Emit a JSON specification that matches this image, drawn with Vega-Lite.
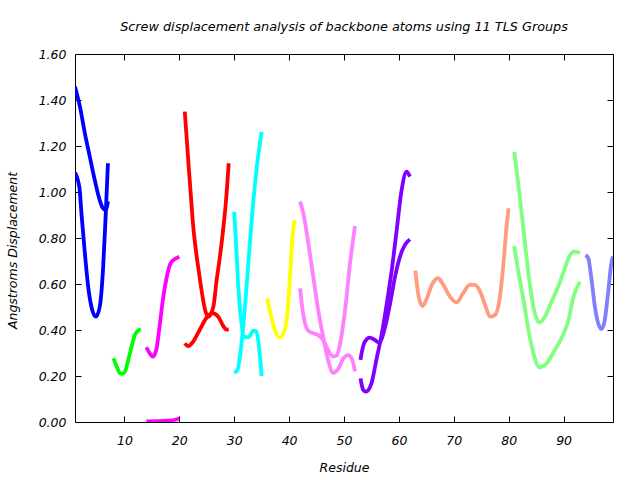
{
  "$schema": "https://vega.github.io/schema/vega-lite/v6.json",
  "width": 538,
  "height": 368,
  "autosize": "none",
  "padding": {"left": 75, "top": 54, "right": 27, "bottom": 58},
  "background": "white",
  "config": {
    "view": {"stroke": "black", "strokeWidth": 1},
    "font": "DejaVu Sans",
    "axis": {"grid": false, "domain": false, "tickColor": "black", "tickSize": -6, "labelFont": "DejaVu Sans", "labelFontStyle": "italic", "labelFontSize": 12.5, "labelColor": "black", "titleFont": "DejaVu Sans", "titleFontStyle": "italic", "titleFontWeight": "normal", "titleFontSize": 12.5, "titleColor": "black"}
  },
  "title": {"text": "Screw displacement analysis of backbone atoms using 11 TLS Groups", "fontStyle": "italic", "fontWeight": "normal", "fontSize": 12.8, "font": "DejaVu Sans", "color": "black", "anchor": "middle", "offset": 14},
  "data": {"values": [
    {"g":"1","s":"1a","r":1,"v":1.458},{"g":"1","s":"1a","r":1.9,"v":1.371},{"g":"1","s":"1a","r":2.8,"v":1.255},{"g":"1","s":"1a","r":3.7,"v":1.153},{"g":"1","s":"1a","r":4.6,"v":1.052},{"g":"1","s":"1a","r":5.5,"v":0.965},{"g":"1","s":"1a","r":6.1,"v":0.929},{"g":"1","s":"1a","r":6.6,"v":0.922},{"g":"1","s":"1a","r":7,"v":0.96},
    {"g":"1","s":"1b","r":1,"v":1.084},{"g":"1","s":"1b","r":1.8,"v":1.02},{"g":"1","s":"1b","r":2.2,"v":0.9},{"g":"1","s":"1b","r":2.8,"v":0.733},{"g":"1","s":"1b","r":3.4,"v":0.588},{"g":"1","s":"1b","r":4.0,"v":0.5},{"g":"1","s":"1b","r":4.8,"v":0.458},{"g":"1","s":"1b","r":5.5,"v":0.5},{"g":"1","s":"1b","r":6.1,"v":0.661},{"g":"1","s":"1b","r":6.55,"v":0.878},{"g":"1","s":"1b","r":7,"v":1.125},
    {"g":"2","s":"2a","r":8,"v":0.277},{"g":"2","s":"2a","r":8.6,"v":0.241},{"g":"2","s":"2a","r":9.2,"v":0.212},{"g":"2","s":"2a","r":9.6,"v":0.209},{"g":"2","s":"2a","r":10.1,"v":0.219},{"g":"2","s":"2a","r":10.7,"v":0.27},{"g":"2","s":"2a","r":11.3,"v":0.327},{"g":"2","s":"2a","r":11.9,"v":0.378},{"g":"2","s":"2a","r":12.5,"v":0.398},{"g":"2","s":"2a","r":13,"v":0.403},
    {"g":"3","s":"3a","r":14,"v":0.325},{"g":"3","s":"3a","r":14.6,"v":0.299},{"g":"3","s":"3a","r":15.2,"v":0.284},{"g":"3","s":"3a","r":15.8,"v":0.313},{"g":"3","s":"3a","r":16.4,"v":0.414},{"g":"3","s":"3a","r":17.0,"v":0.53},{"g":"3","s":"3a","r":17.6,"v":0.617},{"g":"3","s":"3a","r":18.4,"v":0.69},{"g":"3","s":"3a","r":19.1,"v":0.707},{"g":"3","s":"3a","r":20,"v":0.719},
    {"g":"3","s":"3b","r":14,"v":0.003},{"g":"3","s":"3b","r":16,"v":0.004},{"g":"3","s":"3b","r":18,"v":0.006},{"g":"3","s":"3b","r":19,"v":0.008},{"g":"3","s":"3b","r":20,"v":0.015},
    {"g":"4","s":"4a","r":21,"v":1.349},{"g":"4","s":"4a","r":21.37,"v":1.226},{"g":"4","s":"4a","r":21.73,"v":1.104},{"g":"4","s":"4a","r":22.1,"v":0.987},{"g":"4","s":"4a","r":22.5,"v":0.86},{"g":"4","s":"4a","r":23.0,"v":0.75},{"g":"4","s":"4a","r":23.55,"v":0.655},{"g":"4","s":"4a","r":24.1,"v":0.565},{"g":"4","s":"4a","r":24.7,"v":0.487},{"g":"4","s":"4a","r":25.3,"v":0.458},{"g":"4","s":"4a","r":26.2,"v":0.501},{"g":"4","s":"4a","r":26.8,"v":0.617},{"g":"4","s":"4a","r":27.4,"v":0.719},{"g":"4","s":"4a","r":28.0,"v":0.84},{"g":"4","s":"4a","r":28.5,"v":0.96},{"g":"4","s":"4a","r":29,"v":1.125},
    {"g":"4","s":"4b","r":21,"v":0.342},{"g":"4","s":"4b","r":21.6,"v":0.33},{"g":"4","s":"4b","r":22.5,"v":0.349},{"g":"4","s":"4b","r":23.7,"v":0.4},{"g":"4","s":"4b","r":24.9,"v":0.451},{"g":"4","s":"4b","r":26.0,"v":0.473},{"g":"4","s":"4b","r":27.1,"v":0.458},{"g":"4","s":"4b","r":28,"v":0.417},{"g":"4","s":"4b","r":28.6,"v":0.402},{"g":"4","s":"4b","r":29,"v":0.403},
    {"g":"5","s":"5a","r":30,"v":0.914},{"g":"5","s":"5a","r":30.4,"v":0.748},{"g":"5","s":"5a","r":30.7,"v":0.603},{"g":"5","s":"5a","r":31.2,"v":0.458},{"g":"5","s":"5a","r":31.8,"v":0.371},{"g":"5","s":"5a","r":32.6,"v":0.368},{"g":"5","s":"5a","r":33.5,"v":0.397},{"g":"5","s":"5a","r":34.0,"v":0.395},{"g":"5","s":"5a","r":34.5,"v":0.33},{"g":"5","s":"5a","r":35,"v":0.2},
    {"g":"5","s":"5b","r":30,"v":0.214},{"g":"5","s":"5b","r":30.6,"v":0.226},{"g":"5","s":"5b","r":31.2,"v":0.313},{"g":"5","s":"5b","r":31.7,"v":0.429},{"g":"5","s":"5b","r":32.3,"v":0.603},{"g":"5","s":"5b","r":32.9,"v":0.791},{"g":"5","s":"5b","r":33.5,"v":0.965},{"g":"5","s":"5b","r":34.2,"v":1.125},{"g":"5","s":"5b","r":35,"v":1.262},
    {"g":"6","s":"6a","r":36,"v":0.538},{"g":"6","s":"6a","r":36.6,"v":0.473},{"g":"6","s":"6a","r":37.4,"v":0.4},{"g":"6","s":"6a","r":38.3,"v":0.367},{"g":"6","s":"6a","r":39.2,"v":0.4},{"g":"6","s":"6a","r":39.8,"v":0.501},{"g":"6","s":"6a","r":40.2,"v":0.646},{"g":"6","s":"6a","r":40.6,"v":0.8},{"g":"6","s":"6a","r":41,"v":0.878},
    {"g":"7","s":"7a","r":42,"v":0.958},{"g":"7","s":"7a","r":42.6,"v":0.907},{"g":"7","s":"7a","r":43.5,"v":0.777},{"g":"7","s":"7a","r":44.4,"v":0.632},{"g":"7","s":"7a","r":45.3,"v":0.487},{"g":"7","s":"7a","r":46.2,"v":0.371},{"g":"7","s":"7a","r":47.1,"v":0.27},{"g":"7","s":"7a","r":48.0,"v":0.214},{"g":"7","s":"7a","r":48.9,"v":0.229},{"g":"7","s":"7a","r":49.9,"v":0.277},{"g":"7","s":"7a","r":50.8,"v":0.291},{"g":"7","s":"7a","r":51.5,"v":0.27},{"g":"7","s":"7a","r":52,"v":0.22},
    {"g":"7","s":"7b","r":42,"v":0.581},{"g":"7","s":"7b","r":42.5,"v":0.48},{"g":"7","s":"7b","r":43,"v":0.42},{"g":"7","s":"7b","r":43.6,"v":0.395},{"g":"7","s":"7b","r":44.5,"v":0.385},{"g":"7","s":"7b","r":45.3,"v":0.378},{"g":"7","s":"7b","r":46.2,"v":0.357},{"g":"7","s":"7b","r":47.1,"v":0.313},{"g":"7","s":"7b","r":48.0,"v":0.285},{"g":"7","s":"7b","r":48.7,"v":0.29},{"g":"7","s":"7b","r":49.3,"v":0.342},{"g":"7","s":"7b","r":50.2,"v":0.487},{"g":"7","s":"7b","r":51.1,"v":0.69},{"g":"7","s":"7b","r":52,"v":0.852},
    {"g":"8","s":"8a","r":53,"v":0.19},{"g":"8","s":"8a","r":53.5,"v":0.14},{"g":"8","s":"8a","r":54.0,"v":0.132},{"g":"8","s":"8a","r":55.0,"v":0.168},{"g":"8","s":"8a","r":55.9,"v":0.27},{"g":"8","s":"8a","r":56.9,"v":0.386},{"g":"8","s":"8a","r":57.8,"v":0.516},{"g":"8","s":"8a","r":58.7,"v":0.661},{"g":"8","s":"8a","r":59.6,"v":0.835},{"g":"8","s":"8a","r":60.5,"v":1.009},{"g":"8","s":"8a","r":61.4,"v":1.088},{"g":"8","s":"8a","r":62,"v":1.067},
    {"g":"8","s":"8b","r":53,"v":0.27},{"g":"8","s":"8b","r":53.3,"v":0.31},{"g":"8","s":"8b","r":53.8,"v":0.349},{"g":"8","s":"8b","r":54.7,"v":0.367},{"g":"8","s":"8b","r":55.6,"v":0.357},{"g":"8","s":"8b","r":56.4,"v":0.345},{"g":"8","s":"8b","r":57.5,"v":0.414},{"g":"8","s":"8b","r":58.4,"v":0.516},{"g":"8","s":"8b","r":59.3,"v":0.632},{"g":"8","s":"8b","r":60.2,"v":0.719},{"g":"8","s":"8b","r":61.1,"v":0.77},{"g":"8","s":"8b","r":62,"v":0.794},
    {"g":"9","s":"9a","r":63,"v":0.658},{"g":"9","s":"9a","r":63.6,"v":0.545},{"g":"9","s":"9a","r":64.3,"v":0.504},{"g":"9","s":"9a","r":65.1,"v":0.538},{"g":"9","s":"9a","r":66.0,"v":0.596},{"g":"9","s":"9a","r":67.1,"v":0.625},{"g":"9","s":"9a","r":68.1,"v":0.596},{"g":"9","s":"9a","r":69.3,"v":0.545},{"g":"9","s":"9a","r":70.5,"v":0.52},{"g":"9","s":"9a","r":71.7,"v":0.56},{"g":"9","s":"9a","r":72.9,"v":0.596},{"g":"9","s":"9a","r":73.9,"v":0.596},{"g":"9","s":"9a","r":74.8,"v":0.567},{"g":"9","s":"9a","r":75.7,"v":0.509},{"g":"9","s":"9a","r":76.6,"v":0.458},{"g":"9","s":"9a","r":77.5,"v":0.465},{"g":"9","s":"9a","r":78.4,"v":0.545},{"g":"9","s":"9a","r":79.1,"v":0.704},{"g":"9","s":"9a","r":79.6,"v":0.849},{"g":"9","s":"9a","r":80,"v":0.929},
    {"g":"10","s":"10a","r":81,"v":1.175},{"g":"10","s":"10a","r":81.7,"v":1.045},{"g":"10","s":"10a","r":82.7,"v":0.835},{"g":"10","s":"10a","r":83.6,"v":0.646},{"g":"10","s":"10a","r":84.5,"v":0.501},{"g":"10","s":"10a","r":85.6,"v":0.432},{"g":"10","s":"10a","r":86.6,"v":0.458},{"g":"10","s":"10a","r":87.8,"v":0.523},{"g":"10","s":"10a","r":89.0,"v":0.588},{"g":"10","s":"10a","r":89.9,"v":0.646},{"g":"10","s":"10a","r":90.9,"v":0.712},{"g":"10","s":"10a","r":91.8,"v":0.741},{"g":"10","s":"10a","r":93,"v":0.736},
    {"g":"10","s":"10b","r":81,"v":0.765},{"g":"10","s":"10b","r":81.7,"v":0.661},{"g":"10","s":"10b","r":82.7,"v":0.53},{"g":"10","s":"10b","r":83.6,"v":0.4},{"g":"10","s":"10b","r":84.5,"v":0.299},{"g":"10","s":"10b","r":85.6,"v":0.238},{"g":"10","s":"10b","r":86.9,"v":0.255},{"g":"10","s":"10b","r":88.4,"v":0.313},{"g":"10","s":"10b","r":89.6,"v":0.364},{"g":"10","s":"10b","r":90.9,"v":0.443},{"g":"10","s":"10b","r":91.8,"v":0.545},{"g":"10","s":"10b","r":93,"v":0.61},
    {"g":"11","s":"11a","r":94,"v":0.726},{"g":"11","s":"11a","r":94.5,"v":0.712},{"g":"11","s":"11a","r":95.1,"v":0.617},{"g":"11","s":"11a","r":95.7,"v":0.501},{"g":"11","s":"11a","r":96.3,"v":0.429},{"g":"11","s":"11a","r":96.9,"v":0.404},{"g":"11","s":"11a","r":97.5,"v":0.443},{"g":"11","s":"11a","r":98.1,"v":0.56},{"g":"11","s":"11a","r":98.7,"v":0.69},{"g":"11","s":"11a","r":99,"v":0.72}
  ]},
  "layer": [
    {
      "mark": {"type": "line", "strokeWidth": 3.8, "interpolate": "monotone", "clip": true},
      "encoding": {
        "x": {"field": "r", "type": "quantitative", "scale": {"domain": [1, 99], "nice": false, "zero": false},
              "axis": {"orient": "bottom", "title": "Residue", "values": [10,20,30,40,50,60,70,80,90], "labelPadding": 18, "titleBaseline": "middle", "titleY": 45}},
        "y": {"field": "v", "type": "quantitative", "scale": {"domain": [0, 1.6], "nice": false},
              "axis": {"orient": "left", "title": "Angstroms Displacement", "values": [0,0.2,0.4,0.6,0.8,1.0,1.2,1.4,1.6], "format": ".2f", "labelPadding": 15, "titleBaseline": "middle", "titleX": -63, "titleY": 196}},
        "color": {"field": "g", "type": "nominal", "legend": null,
                  "scale": {"domain": ["1","2","3","4","5","6","7","8","9","10","11"],
                            "range": ["#0000ff","#00ff00","#ff00ff","#ff0000","#00ffff","#ffff00","#ff80ff","#8000ff","#ff9c80","#80ff80","#8080ff"]}},
        "detail": {"field": "s", "type": "nominal"}
      }
    },
    {
      "mark": {"type": "line", "strokeOpacity": 0},
      "encoding": {
        "x": {"field": "r", "type": "quantitative", "scale": {"domain": [1, 99], "nice": false, "zero": false},
              "axis": {"orient": "top", "title": null, "labels": false, "values": [10,20,30,40,50,60,70,80,90]}},
        "y": {"field": "v", "type": "quantitative", "scale": {"domain": [0, 1.6], "nice": false},
              "axis": {"orient": "right", "title": null, "labels": false, "values": [0,0.2,0.4,0.6,0.8,1.0,1.2,1.4,1.6]}},
        "detail": {"field": "s", "type": "nominal"}
      }
    }
  ],
  "resolve": {"axis": {"x": "independent", "y": "independent"}}
}
